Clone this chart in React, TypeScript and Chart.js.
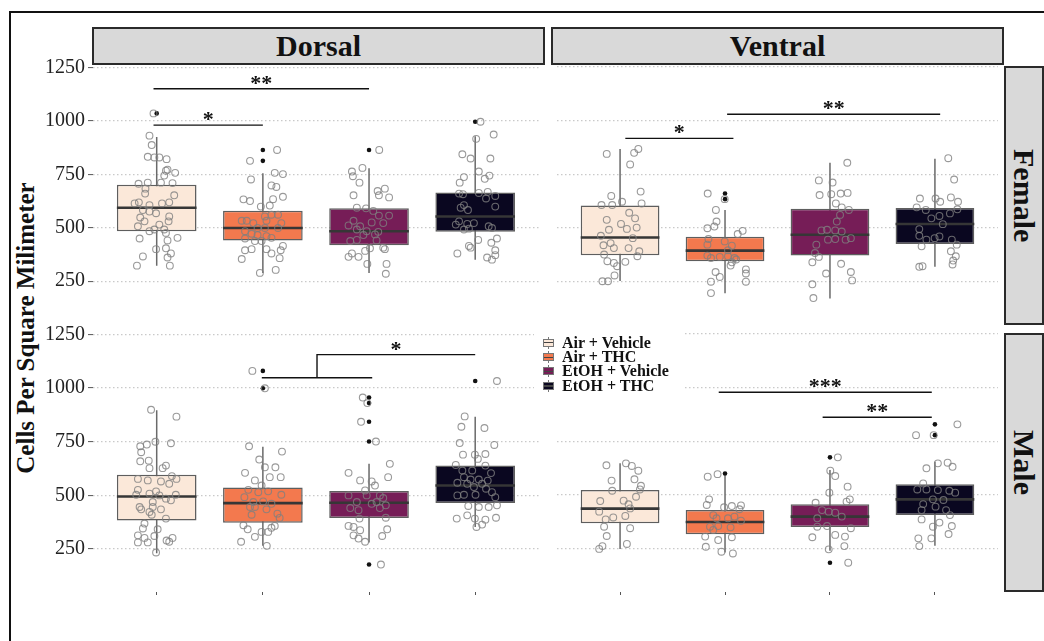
import React, { useEffect, useRef } from "react";
import { Chart, registerables } from "chart.js";

Chart.register(...registerables);

// ---------------- data ----------------
const REGIONS = ["Dorsal", "Ventral"];
const SEXES = ["Female", "Male"];
const GROUPS = ["Air + Vehicle", "Air + THC", "EtOH + Vehicle", "EtOH + THC"];
const GROUP_POSITIONS = [1, 2, 3, 4];
const Y_TICKS = [250, 500, 750, 1000, 1250];
const Y_TITLE = "Cells Per Square Milimeter";

// [lower whisker, Q1, median, Q3, upper whisker]
const FEMALE_DORSAL_BOX = [[323, 484, 594, 701, 925], [289, 441, 499, 580, 755], [288, 418, 484, 591, 778], [351, 481, 553, 665, 928]];
const FEMALE_VENTRAL_BOX = [[254, 374, 456, 605, 867], [197, 346, 395, 460, 584], [173, 372, 469, 590, 803], [320, 426, 519, 593, 821]];
const MALE_DORSAL_BOX = [[230, 383, 495, 596, 897], [265, 373, 464, 537, 727], [281, 395, 466, 520, 647], [353, 465, 546, 639, 866]];
const MALE_VENTRAL_BOX = [[250, 369, 437, 523, 647], [233, 318, 375, 430, 592], [242, 352, 400, 457, 616], [265, 407, 480, 550, 655]];

// boxplot outliers per group
const FEMALE_DORSAL_OUT = [[1035], [864, 813], [864], [996]];
const FEMALE_VENTRAL_OUT = [[], [660, 634], [], []];
const MALE_DORSAL_OUT = [[], [1080, 999], [956, 930, 843, 751, 178], [1033]];
const MALE_VENTRAL_OUT = [[], [600], [675, 186], [828, 778]];

// jittered observations per group: [jitter offset (category units), value]
const FEMALE_DORSAL_POINTS = [
  [[-0.068, 931], [-0.047, 887], [-0.084, 832], [-0.022, 829], [0.025, 829], [0.093, 821], [0.102, 772], [0.087, 767], [0.174, 757], [0.071, 744], [-0.171, 706], [-0.084, 711], [0.04, 711], [0.149, 709], [-0.106, 683], [-0.109, 660], [0.165, 652], [-0.208, 614], [-0.168, 619], [-0.068, 606], [0.05, 614], [0.118, 619], [-0.13, 583], [-0.068, 576], [-0.006, 568], [-0.155, 548], [0.118, 553], [-0.115, 530], [0.112, 530], [0.025, 515], [-0.177, 507], [-0.022, 492], [-0.068, 484], [0.071, 492], [0.087, 476], [-0.161, 450], [0.102, 441], [0.196, 453], [-0.006, 400], [0.087, 404], [-0.13, 366], [0.102, 361], [0.134, 380], [-0.186, 323], [0.124, 323], [-0.03, 1035]],
  [[-0.121, 813], [0.134, 864], [0.112, 757], [0.189, 751], [-0.112, 726], [0.081, 698], [0.127, 691], [0.189, 645], [-0.183, 633], [-0.121, 625], [0.096, 634], [-0.019, 599], [0.065, 604], [0.143, 561], [0.019, 553], [0.081, 561], [-0.199, 533], [-0.152, 533], [-0.09, 522], [0.034, 533], [0.174, 522], [0.143, 499], [-0.05, 499], [0.019, 499], [-0.168, 484], [-0.106, 472], [-0.05, 466], [0.034, 461], [0.081, 453], [-0.168, 450], [0.189, 415], [0.168, 395], [-0.168, 395], [-0.106, 400], [0.034, 400], [0.081, 380], [-0.199, 354], [0.158, 358], [0.121, 303], [-0.028, 289], [-0.075, 438], [-0.012, 438]],
  [[0.096, 864], [-0.161, 763], [-0.062, 780], [-0.152, 741], [-0.09, 711], [0.149, 683], [0.081, 672], [0.093, 652], [-0.146, 652], [0.189, 642], [-0.115, 594], [-0.028, 591], [0.04, 579], [0.093, 557], [0.189, 557], [-0.146, 533], [-0.193, 511], [0.025, 525], [0.134, 522], [-0.115, 492], [-0.022, 484], [0.056, 469], [0.087, 481], [-0.053, 466], [-0.177, 438], [-0.115, 443], [0.071, 441], [0.009, 404], [0.134, 407], [0.149, 400], [-0.161, 380], [-0.099, 364], [-0.193, 364], [-0.016, 331], [0.165, 331], [0.158, 285], [-0.084, 507], [-0.037, 392]],
  [[0.05, 996], [0.174, 936], [0.009, 916], [-0.121, 844], [-0.043, 824], [0.143, 824], [0.034, 763], [-0.106, 737], [-0.146, 711], [0.134, 744], [0.09, 729], [-0.152, 660], [-0.115, 657], [0.034, 663], [0.118, 668], [0.189, 649], [0.102, 637], [0.189, 599], [-0.137, 594], [-0.106, 606], [-0.068, 583], [-0.152, 530], [-0.183, 515], [-0.075, 518], [-0.012, 522], [-0.106, 492], [-0.059, 496], [0.127, 507], [0.158, 499], [0.205, 450], [0.028, 443], [0.152, 430], [-0.059, 415], [-0.043, 407], [0.189, 395], [-0.168, 380], [0.189, 372], [0.112, 361], [0.158, 351]],
];
const FEMALE_VENTRAL_POINTS = [
  [[-0.127, 844], [0.134, 849], [0.174, 867], [0.096, 795], [0.196, 669], [-0.084, 649], [0.019, 622], [-0.177, 607], [-0.075, 607], [0.205, 614], [0.087, 571], [0.143, 545], [-0.127, 538], [0.009, 519], [0.065, 496], [0.158, 502], [-0.106, 492], [-0.183, 464], [0.121, 453], [-0.158, 420], [-0.059, 407], [-0.09, 430], [0.081, 407], [0.183, 392], [-0.152, 377], [-0.121, 346], [-0.059, 338], [-0.028, 323], [0.05, 343], [0.165, 369], [-0.053, 280], [-0.168, 253], [-0.115, 253]],
  [[-0.165, 660], [-0.003, 634], [-0.087, 584], [-0.081, 530], [-0.168, 499], [-0.102, 507], [0.168, 487], [0.121, 472], [-0.158, 449], [-0.003, 438], [0.065, 418], [-0.168, 423], [0.028, 397], [-0.05, 366], [-0.168, 372], [-0.134, 361], [0.028, 369], [0.09, 361], [0.106, 354], [0.065, 341], [0.053, 326], [0.199, 308], [0.199, 289], [-0.09, 296], [-0.05, 273], [-0.134, 251], [0.199, 251], [-0.134, 198]],
  [[0.165, 803], [-0.106, 721], [0.025, 711], [-0.099, 653], [0.012, 657], [0.102, 660], [0.168, 663], [0.056, 614], [0.112, 596], [0.18, 584], [0.096, 561], [0.065, 530], [-0.081, 489], [-0.028, 492], [0.05, 489], [0.112, 484], [0.199, 453], [0.149, 446], [0.05, 449], [-0.019, 446], [-0.13, 423], [-0.143, 384], [-0.106, 366], [-0.168, 341], [0.106, 334], [-0.037, 289], [0.199, 296], [0.211, 257], [-0.168, 239], [-0.158, 175]],
  [[0.127, 824], [0.183, 725], [-0.143, 637], [0.006, 637], [0.05, 622], [0.152, 642], [0.22, 622], [-0.174, 596], [-0.087, 584], [0.143, 568], [0.214, 587], [-0.034, 545], [0.043, 556], [0.075, 518], [-0.149, 495], [-0.149, 464], [-0.081, 446], [-0.003, 453], [0.043, 461], [0.161, 446], [0.208, 423], [-0.127, 415], [0.152, 392], [0.199, 369], [0.174, 349], [0.168, 331], [-0.149, 320], [-0.118, 323]],
];
const MALE_DORSAL_POINTS = [
  [[-0.053, 899], [0.186, 867], [-0.012, 750], [0.134, 743], [-0.155, 729], [-0.093, 737], [-0.146, 701], [-0.075, 662], [-0.155, 659], [-0.068, 627], [0.087, 639], [0.056, 627], [0.143, 590], [0.186, 577], [-0.177, 577], [-0.084, 570], [0.04, 565], [0.118, 554], [-0.177, 526], [-0.006, 519], [0.18, 503], [-0.193, 503], [0.025, 500], [-0.068, 508], [0.087, 485], [-0.037, 469], [0.134, 477], [-0.161, 446], [-0.146, 435], [-0.037, 446], [0.04, 435], [-0.068, 423], [-0.047, 410], [0.087, 392], [-0.115, 369], [-0.13, 346], [0.009, 342], [-0.177, 314], [-0.022, 311], [-0.115, 302], [0.149, 302], [0.093, 290], [-0.177, 281], [-0.084, 281], [0.118, 284], [-0.006, 234]],
  [[-0.099, 1080], [0.019, 999], [-0.13, 729], [0.18, 704], [-0.034, 667], [0.019, 631], [0.118, 631], [-0.168, 605], [0.168, 585], [0.065, 585], [-0.075, 570], [-0.012, 546], [-0.137, 526], [-0.043, 515], [0.05, 519], [0.174, 503], [-0.174, 492], [-0.09, 469], [0.003, 472], [0.081, 461], [-0.121, 446], [-0.075, 446], [0.034, 435], [0.137, 415], [-0.106, 410], [0.158, 395], [-0.183, 361], [0.112, 358], [0.081, 349], [-0.143, 342], [-0.075, 307], [-0.012, 330], [0.05, 330], [-0.205, 284], [0.037, 265]],
  [[-0.059, 956], [-0.016, 930], [-0.075, 843], [0.065, 751], [0.112, 178], [0.196, 647], [-0.193, 605], [-0.084, 570], [0.18, 585], [0.025, 565], [0.056, 546], [-0.037, 523], [-0.193, 500], [0.102, 500], [0.134, 488], [0.071, 469], [-0.115, 469], [0.158, 454], [-0.177, 441], [-0.099, 431], [0.025, 461], [0.102, 441], [-0.09, 392], [0.158, 396], [-0.193, 358], [-0.146, 353], [0.171, 342], [-0.084, 338], [-0.146, 314], [0.124, 311], [-0.099, 299], [-0.037, 284], [-0.022, 500]],
  [[0.205, 1033], [-0.099, 868], [-0.13, 820], [0.087, 814], [-0.146, 744], [0.18, 735], [-0.115, 690], [-0.003, 690], [0.096, 693], [-0.183, 642], [0.025, 670], [0.096, 639], [-0.121, 616], [-0.028, 616], [0.149, 604], [-0.106, 585], [-0.043, 574], [0.034, 574], [0.118, 569], [-0.168, 559], [-0.075, 554], [0.065, 554], [-0.012, 539], [0.102, 531], [-0.168, 500], [-0.106, 503], [0.003, 503], [0.158, 515], [0.189, 492], [-0.065, 451], [0.034, 446], [0.127, 446], [0.205, 454], [-0.174, 392], [-0.075, 407], [-0.003, 392], [0.096, 387], [0.196, 396], [0.012, 353], [0.065, 364]],
];
const MALE_VENTRAL_POINTS = [
  [[-0.13, 638], [0.056, 647], [0.112, 635], [0.174, 613], [-0.081, 567], [0.137, 573], [0.199, 543], [-0.075, 520], [0.189, 526], [0.152, 492], [-0.189, 472], [0.034, 474], [0.081, 457], [0.096, 438], [-0.199, 423], [0.05, 403], [-0.065, 396], [-0.137, 387], [-0.152, 353], [0.096, 346], [-0.127, 310], [0.065, 273], [-0.168, 263], [-0.199, 250]],
  [[-0.071, 597], [-0.165, 585], [-0.152, 480], [-0.174, 454], [-0.009, 443], [0.065, 449], [0.152, 452], [-0.112, 407], [-0.081, 392], [0.028, 392], [0.09, 400], [0.152, 381], [-0.143, 353], [-0.065, 356], [0.053, 350], [-0.189, 307], [-0.065, 291], [0.065, 304], [-0.183, 260], [-0.034, 237], [0.075, 229], [-0.112, 338], [0.137, 434]],
  [[0.075, 675], [0.174, 186], [0.003, 613], [0.05, 588], [0.168, 539], [-0.006, 511], [0.189, 480], [0.158, 469], [-0.137, 464], [-0.075, 430], [-0.012, 423], [0.05, 418], [0.112, 400], [-0.121, 392], [-0.028, 356], [-0.121, 353], [0.199, 346], [-0.168, 304], [0.05, 315], [0.143, 307], [0.137, 263], [-0.012, 248]],
  [[0.214, 828], [-0.18, 778], [-0.012, 778], [-0.081, 624], [0.028, 647], [0.121, 650], [0.168, 631], [-0.112, 554], [-0.168, 526], [-0.081, 526], [0.028, 523], [0.137, 520], [0.193, 511], [-0.019, 480], [0.081, 477], [-0.112, 458], [0.006, 446], [-0.127, 430], [0.106, 430], [0.143, 407], [-0.127, 387], [0.043, 372], [-0.019, 353], [0.161, 356], [0.13, 319], [-0.158, 299], [-0.034, 299], [-0.149, 263]],
];

// significance brackets: from/to group position, height, label (drop = left leg down to value)
const FEMALE_DORSAL_SIG = [
  { from: 0.97, to: 3.0, y: 1150, label: "**" },
  { from: 0.97, to: 2.0, y: 980, label: "*" },
];
const FEMALE_VENTRAL_SIG = [
  { from: 1.05, to: 2.08, y: 916, label: "*" },
  { from: 2.02, to: 4.05, y: 1028, label: "**" },
];
const MALE_DORSAL_SIG = [
  { from: 1.99, to: 3.03, y: 1048, label: "" },
  { from: 2.51, to: 4.0, y: 1156, label: "*", drop: 1048 },
];
const MALE_VENTRAL_SIG = [
  { from: 1.94, to: 3.97, y: 977, label: "***" },
  { from: 2.93, to: 3.97, y: 861, label: "**" },
];

const PANELS = [
  { sex: 0, region: 0, box: FEMALE_DORSAL_BOX, out: FEMALE_DORSAL_OUT, pts: FEMALE_DORSAL_POINTS, sig: FEMALE_DORSAL_SIG },
  { sex: 0, region: 1, box: FEMALE_VENTRAL_BOX, out: FEMALE_VENTRAL_OUT, pts: FEMALE_VENTRAL_POINTS, sig: FEMALE_VENTRAL_SIG },
  { sex: 1, region: 0, box: MALE_DORSAL_BOX, out: MALE_DORSAL_OUT, pts: MALE_DORSAL_POINTS, sig: MALE_DORSAL_SIG },
  { sex: 1, region: 1, box: MALE_VENTRAL_BOX, out: MALE_VENTRAL_OUT, pts: MALE_VENTRAL_POINTS, sig: MALE_VENTRAL_SIG },
];

// ---------------- layout / style ----------------
const FONT = '"Liberation Serif", "Times New Roman", serif';
const COLORS = ["#FBE8D9", "#F3794E", "#761D57", "#0A0720"];
const PANEL_LEFT = [93, 552];
const PANEL_TOP = [66, 333];
const PANEL_W = 451;
const PANEL_H = 259;
const AXIS_W = 60;
const PAD_TOP = 14;
const X_MIN = 0.4;
const X_MAX = 4.6;
const Y_MIN = 50;
const Y_MAX = 1252;
const BOX_WIDTH = 0.75;
const STRIP_LEFT = [92, 551];

function PanelChart({ panel }: { panel: any }) {
  const ref = useRef<HTMLCanvasElement | null>(null);
  const isLeft = panel.region === 0;
  const isBottom = panel.sex === 1;
  const axisW = isLeft ? AXIS_W : 0;
  const padBottom = isBottom ? 10 : 14;
  const xAxisH = isBottom ? 6 : 0;
  const width = axisW + PANEL_W;
  const height = PAD_TOP + PANEL_H + xAxisH + padBottom;
  const left = PANEL_LEFT[panel.region] - axisW;
  const top = PANEL_TOP[panel.sex] - PAD_TOP;

  useEffect(() => {
    if (!ref.current) return;
    const whiskerData: any[] = [];
    const medianData: any[] = [];
    const boxData: any[] = [];
    const outData: any[] = [];
    const ptData: any[] = [];
    panel.box.forEach((b: number[], i: number) => {
      const g = GROUP_POSITIONS[i];
      whiskerData.push({ x: g, y: b[0] }, { x: g, y: b[4] }, { x: g, y: null });
      medianData.push({ x: g - BOX_WIDTH / 2, y: b[2] }, { x: g + BOX_WIDTH / 2, y: b[2] }, { x: g, y: null });
      boxData.push({ x: g, y: [b[1], b[3]] });
    });
    panel.out.forEach((vals: number[], i: number) => {
      vals.forEach((v) => outData.push({ x: GROUP_POSITIONS[i], y: v }));
    });
    panel.pts.forEach((grp: number[][], i: number) => {
      grp.forEach(([dx, v]) => ptData.push({ x: GROUP_POSITIONS[i] + dx, y: v }));
    });
    const sigData: any[] = [];
    panel.sig.forEach((s: any) => {
      if (s.drop != null) sigData.push({ x: s.from, y: s.drop });
      sigData.push({ x: s.from, y: s.y }, { x: s.to, y: s.y }, { x: s.to, y: null });
    });

    const sigText = {
      id: "sigText",
      afterDatasetsDraw(c: any) {
        const { ctx, scales } = c;
        ctx.save();
        ctx.font = `bold 22px ${FONT}`;
        ctx.fillStyle = "#111";
        ctx.textAlign = "center";
        ctx.textBaseline = "alphabetic";
        panel.sig.forEach((s: any) => {
          if (!s.label) return;
          const px = scales.x.getPixelForValue((s.from + s.to) / 2);
          const py = scales.y.getPixelForValue(s.y);
          ctx.fillText(s.label, px, py + 1);
        });
        ctx.restore();
      },
    };

    const chart = new Chart(ref.current, {
      type: "scatter",
      data: {
        datasets: [
          { type: "line", data: whiskerData, borderColor: "#6a6a6a", borderWidth: 1.5, pointRadius: 0, spanGaps: false, order: 5 } as any,
          {
            type: "bar",
            data: boxData,
            backgroundColor: COLORS,
            borderColor: "#5e5e5e",
            borderWidth: 1.5,
            borderSkipped: false,
            barPercentage: BOX_WIDTH,
            categoryPercentage: 1,
            grouped: false,
            order: 4,
          } as any,
          { type: "line", data: medianData, borderColor: "#363636", borderWidth: 2.6, pointRadius: 0, spanGaps: false, order: 3 } as any,
          { type: "scatter", data: outData, pointRadius: 2.3, backgroundColor: "#111", borderWidth: 0, order: 2 } as any,
          { type: "scatter", data: ptData, pointRadius: 3.4, backgroundColor: "rgba(0,0,0,0)", borderColor: "rgba(128,128,128,0.8)", borderWidth: 1.1, order: 1 } as any,
          { type: "line", data: sigData, borderColor: "#111", borderWidth: 1.4, pointRadius: 0, spanGaps: false, order: 0, clip: false } as any,
        ],
      },
      options: {
        responsive: false,
        maintainAspectRatio: false,
        animation: false,
        events: [],
        layout: { padding: { top: PAD_TOP, bottom: padBottom, left: 0, right: 0 } },
        plugins: { legend: { display: false }, tooltip: { enabled: false } },
        scales: {
          x: {
            type: "linear",
            min: X_MIN,
            max: X_MAX,
            offset: false,
            display: isBottom,
            afterBuildTicks: (s: any) => {
              s.ticks = GROUP_POSITIONS.map((v) => ({ value: v }));
            },
            afterFit: (s: any) => {
              s.height = xAxisH;
            },
            grid: { offset: false, drawOnChartArea: false, drawTicks: true, tickLength: 3, tickColor: "#555", tickWidth: 1 },
            border: { display: false },
            ticks: { display: false },
          },
          y: {
            type: "linear",
            min: Y_MIN,
            max: Y_MAX,
            offset: false,
            afterBuildTicks: (s: any) => {
              s.ticks = Y_TICKS.map((v) => ({ value: v }));
            },
            afterFit: (s: any) => {
              s.width = axisW;
            },
            grid: { offset: false, color: "#c9c9c9", lineWidth: 1.2, drawTicks: isLeft, tickLength: 5, tickColor: "#555", tickWidth: 1, tickBorderDash: [] },
            border: { display: false, dash: [1.5, 2.5] },
            ticks: {
              display: isLeft,
              padding: 3,
              color: "#222",
              font: { family: FONT, size: 20 },
              callback: (v: any) => String(v),
            },
          },
        },
      } as any,
      plugins: [sigText],
    });
    return () => chart.destroy();
  }, []);

  return <canvas ref={ref} width={width} height={height} style={{ position: "absolute", left, top, width, height }} />;
}

function LegendKey({ color }: { color: string }) {
  return (
    <div style={{ position: "relative", width: 11, height: 12, flex: "none" }}>
      <div style={{ position: "absolute", left: 5, top: 0, width: 1, height: 12, background: "#777" }} />
      <div style={{ position: "absolute", left: 0, top: 2, width: 11, height: 8, boxSizing: "border-box", border: "1px solid #777", background: color }} />
      <div style={{ position: "absolute", left: 1, top: 5.5, width: 9, height: 1.3, background: "#444" }} />
    </div>
  );
}

export default function App() {
  return (
    <div style={{ position: "absolute", left: 0, top: 0, width: 1044, height: 641, overflow: "hidden", background: "#fff", fontFamily: FONT }}>
      <div style={{ position: "absolute", left: 9, top: 11, width: 1100, height: 700, borderLeft: "2px solid #111", borderTop: "2px solid #111" }} />
      {REGIONS.map((r, i) => (
        <div
          key={r}
          style={{
            position: "absolute",
            left: STRIP_LEFT[i],
            top: 27,
            width: 453,
            height: 38,
            boxSizing: "border-box",
            border: "2px solid #2a2a2a",
            background: "#d9d9d9",
            display: "flex",
            alignItems: "center",
            justifyContent: "center",
            font: `bold 30px ${FONT}`,
            color: "#111",
          }}
        >
          {r}
        </div>
      ))}
      {SEXES.map((s, i) => (
        <div
          key={s}
          style={{
            position: "absolute",
            left: 1004,
            top: PANEL_TOP[i],
            width: 40,
            height: PANEL_H,
            boxSizing: "border-box",
            border: "2px solid #2a2a2a",
            background: "#d9d9d9",
            display: "flex",
            alignItems: "center",
            justifyContent: "center",
          }}
        >
          <span style={{ writingMode: "vertical-rl", font: `bold 30px ${FONT}`, color: "#111" }}>{s}</span>
        </div>
      ))}
      <div
        style={{
          position: "absolute",
          left: 26,
          top: 328,
          transform: "translate(-50%, -50%) rotate(-90deg)",
          whiteSpace: "nowrap",
          font: `bold 25px ${FONT}`,
          color: "#111",
        }}
      >
        {Y_TITLE}
      </div>
      {PANELS.map((p, i) => (
        <PanelChart key={i} panel={p} />
      ))}
      <div style={{ position: "absolute", left: 534, top: 330, width: 149, height: 62, background: "#fff" }}>
        <div style={{ position: "absolute", left: 9, top: 5.5 }}>
          {GROUPS.map((g, i) => (
            <div key={g} style={{ display: "flex", alignItems: "center", height: 14.4, whiteSpace: "nowrap" }}>
              <LegendKey color={COLORS[i]} />
              <span style={{ marginLeft: 8, font: `bold 16px ${FONT}`, color: "#111", lineHeight: "14px" }}>{g}</span>
            </div>
          ))}
        </div>
      </div>
    </div>
  );
}
